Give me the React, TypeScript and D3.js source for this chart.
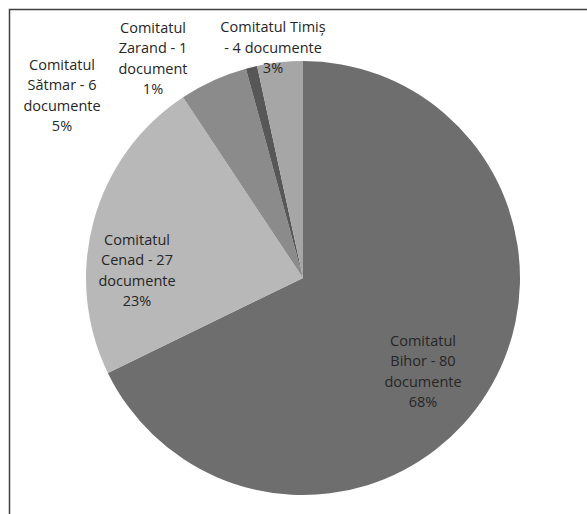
import React from "react";
import * as d3 from "d3";

const names = ["Comitatul Bihor", "Comitatul Cenad", "Comitatul Sătmar", "Comitatul Zarand", "Comitatul Timiș"];
const counts = [80, 27, 6, 1, 4];
const units = ["documente", "documente", "documente", "document", "documente"];
const colors = ["#6e6e6e", "#b8b8b8", "#8b8b8b", "#575757", "#a6a6a6"];

// label layout (lines split like the original), offsets relative to pie centre
const LABEL_OFFSETS: [number, number][] = [
  [120, 93],
  [-166, -8],
  [-241, -183],
  [-150, -220],
  [-30, -231],
];

const W = 587;
const H = 514;
const CX = 303;
const CY = 278;
const R = 217;
const LINE = 20.4;

export default function App() {
  const total = d3.sum(counts);
  const pie = d3.pie<number>().sort(null).value((d) => d)(counts);
  const arc = d3.arc<d3.PieArcDatum<number>>().innerRadius(0).outerRadius(R);

  const labelLines = (i: number): string[] => {
    const pct = `${Math.round((counts[i] / total) * 100)}%`;
    const [w1, w2] = names[i].split(" ");
    const tail = `${counts[i]} ${units[i]}`;
    if (i === 4) return [`${w1} ${w2}`, `- ${tail}`, pct];
    return [w1, `${w2} - ${counts[i]}`, units[i], pct];
  };

  return (
    <svg
      width={W}
      height={H}
      style={{ position: "absolute", left: 0, top: 0, display: "block", background: "#fff" }}
      fontFamily="'Open Sans', sans-serif"
    >
      <rect x={9.5} y={9.5} width={700} height={700} fill="#fff" stroke="#3f3f3f" strokeWidth={1.5} />
      <g transform={`translate(${CX},${CY})`}>
        {pie.map((p, i) => (
          <path key={i} d={arc(p) || ""} fill={colors[i]} />
        ))}
        {pie.map((p, i) => {
          const lines = labelLines(i);
          const [dx, dy] = LABEL_OFFSETS[i];
          return (
            <text key={`t${i}`} textAnchor="middle" fontSize={14.5} fill="#262626">
              {lines.map((l, j) => (
                <tspan key={j} x={dx} y={dy + (j - (lines.length - 1) / 2) * LINE} dominantBaseline="central">
                  {l}
                </tspan>
              ))}
            </text>
          );
        })}
      </g>
    </svg>
  );
}
